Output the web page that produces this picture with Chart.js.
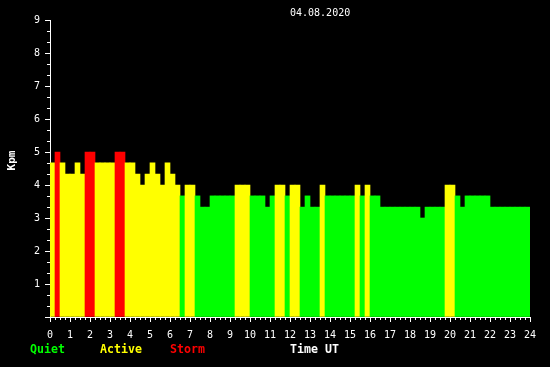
<!DOCTYPE html>
<html>
<head>
<meta charset="utf-8">
<script src="https://cdn.jsdelivr.net/npm/chart.js@4/dist/chart.umd.min.js"></script>
<style>
  html, body { margin: 0; padding: 0; background: #000; }
  #wrap { width: 550px; height: 367px; }
</style>
</head>
<body>
<div id="wrap"><canvas id="kp-graph"></canvas></div>
<script>
// quarter-hour slots, 04.08.2020
const times = [
  "00:00", "00:15", "00:30", "00:45", "01:00", "01:15", "01:30", "01:45",
  "02:00", "02:15", "02:30", "02:45", "03:00", "03:15", "03:30", "03:45",
  "04:00", "04:15", "04:30", "04:45", "05:00", "05:15", "05:30", "05:45",
  "06:00", "06:15", "06:30", "06:45", "07:00", "07:15", "07:30", "07:45",
  "08:00", "08:15", "08:30", "08:45", "09:00", "09:15", "09:30", "09:45",
  "10:00", "10:15", "10:30", "10:45", "11:00", "11:15", "11:30", "11:45",
  "12:00", "12:15", "12:30", "12:45", "13:00", "13:15", "13:30", "13:45",
  "14:00", "14:15", "14:30", "14:45", "15:00", "15:15", "15:30", "15:45",
  "16:00", "16:15", "16:30", "16:45", "17:00", "17:15", "17:30", "17:45",
  "18:00", "18:15", "18:30", "18:45", "19:00", "19:15", "19:30", "19:45",
  "20:00", "20:15", "20:30", "20:45", "21:00", "21:15", "21:30", "21:45",
  "22:00", "22:15", "22:30", "22:45", "23:00", "23:15", "23:30", "23:45",
];

const kpm = [
  4.67, 5, 4.67, 4.33, 4.33, 4.67, 4.33, 5,
  5, 4.67, 4.67, 4.67, 4.67, 5, 5, 4.67,
  4.67, 4.33, 4, 4.33, 4.67, 4.33, 4, 4.67,
  4.33, 4, 3.67, 4, 4, 3.67, 3.33, 3.33,
  3.67, 3.67, 3.67, 3.67, 3.67, 4, 4, 4,
  3.67, 3.67, 3.67, 3.33, 3.67, 4, 4, 3.67,
  4, 4, 3.33, 3.67, 3.33, 3.33, 4, 3.67,
  3.67, 3.67, 3.67, 3.67, 3.67, 4, 3.67, 4,
  3.67, 3.67, 3.33, 3.33, 3.33, 3.33, 3.33, 3.33,
  3.33, 3.33, 3, 3.33, 3.33, 3.33, 3.33, 4,
  4, 3.67, 3.33, 3.67, 3.67, 3.67, 3.67, 3.67,
  3.33, 3.33, 3.33, 3.33, 3.33, 3.33, 3.33, 3.33,
];

const levels = [
  { name: "Quiet", color: "#00ff00", x: 30 },
  { name: "Active", color: "#ffff00", x: 100 },
  { name: "Storm", color: "#ff0000", x: 170 },
];

const dateText = "04.08.2020";
const mono = '"DejaVu Sans Mono", monospace';

function barColor(v) {
  if (v >= 5) return levels[2].color;
  if (v >= 4) return levels[1].color;
  return levels[0].color;
}

// short ticks every 15 min and every 1/3 Kp, plus the loose texts
const extras = {
  id: "extras",
  afterDraw(chart) {
    const ctx = chart.ctx;
    const xs = chart.scales.xTime;
    const ys = chart.scales.y;
    const area = chart.chartArea;
    ctx.save();
    ctx.strokeStyle = "#fff";
    ctx.lineWidth = 1;
    ctx.beginPath();
    for (let q = 0; q < 96; q++) {
      if (q % 4 === 0) continue;
      const px = Math.round(xs.getPixelForValue(q / 4)) + 0.5;
      ctx.moveTo(px, area.bottom);
      ctx.lineTo(px, area.bottom + 3);
    }
    for (let t = 0; t < 27; t++) {
      if (t % 3 === 0) continue;
      const py = Math.round(ys.getPixelForValue(t / 3)) + 0.5;
      ctx.moveTo(area.left - 3, py);
      ctx.lineTo(area.left, py);
    }
    ctx.stroke();

    ctx.fillStyle = "#fff";
    ctx.font = "10px " + mono;
    ctx.textBaseline = "alphabetic";
    ctx.textAlign = "left";
    ctx.fillText(dateText, 290, 16);

    ctx.font = "bold 11.6px " + mono;
    levels.forEach((l) => {
      ctx.fillStyle = l.color;
      ctx.fillText(l.name, l.x, 352.5);
    });
    ctx.fillStyle = "#fff";
    ctx.fillText("Time UT", 290, 352.5);

    ctx.translate(12, 160.5);
    ctx.rotate(-Math.PI / 2);
    ctx.font = "bold 11px " + mono;
    ctx.textAlign = "center";
    ctx.textBaseline = "middle";
    ctx.fillText("Kpm", 0, 0);
    ctx.restore();
  },
};

new Chart(document.getElementById("kp-graph"), {
  type: "bar",
  data: {
    labels: times,
    datasets: [
      {
        label: "Kpm",
        data: kpm,
        xAxisID: "x",
        yAxisID: "y",
        backgroundColor: kpm.map(barColor),
        borderWidth: 0,
        barPercentage: 1,
        categoryPercentage: 1,
      },
    ],
  },
  options: {
    responsive: true,
    maintainAspectRatio: false,
    animation: false,
    layout: { padding: { left: 0, right: 20, top: 20, bottom: 0 } },
    plugins: {
      legend: { display: false },
      tooltip: { enabled: false },
    },
    scales: {
      x: { type: "category", display: false, offset: true },
      xTime: {
        type: "linear",
        position: "bottom",
        min: 0,
        max: 24,
        offset: false,
        afterFit: (s) => { s.height = 50; },
        grid: { drawOnChartArea: false, offset: false, color: "#fff", tickLength: 5 },
        border: { color: "#fff" },
        ticks: {
          stepSize: 1,
          autoSkip: false,
          maxRotation: 0,
          padding: 7,
          color: "#fff",
          font: { family: mono, size: 10 },
        },
      },
      y: {
        min: 0,
        max: 9,
        afterFit: (s) => { s.width = 50; },
        grid: { drawOnChartArea: false, color: "#fff", tickLength: 5 },
        border: { color: "#fff" },
        ticks: {
          stepSize: 1,
          padding: 5,
          color: "#fff",
          font: { family: mono, size: 10 },
          callback: (v) => (v === 0 ? "" : v),
        },
      },
    },
  },
  plugins: [extras],
});
</script>
</body>
</html>
